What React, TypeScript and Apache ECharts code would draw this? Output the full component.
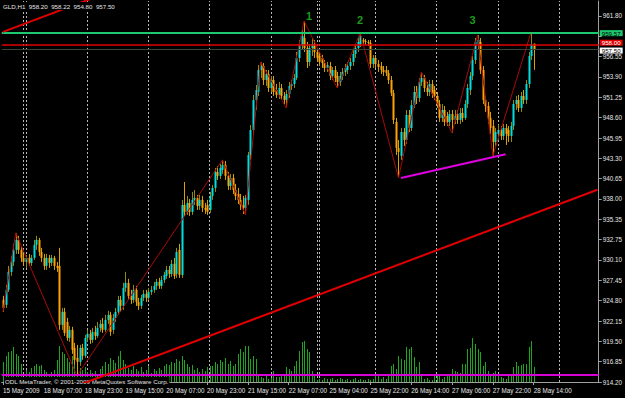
import React, { useEffect, useRef } from 'react';
import * as echarts from 'echarts';

const symbolName = 'GLD,H1';
const copyrightText = 'ODL MetaTrader, \u00a9 2001-2009 MetaQuotes Software Corp.';

// x axis: one slot per hourly bar (plus empty shift space on the right)
const slotCount = 234;
const xLabelStep = 16;
const xTickLabels = [
  '15 May 2009', '18 May 07:00', '18 May 23:00', '19 May 15:00', '20 May 07:00',
  '20 May 23:00', '21 May 15:00', '22 May 07:00', '25 May 04:00', '25 May 22:00',
  '26 May 14:00', '27 May 06:00', '27 May 22:00', '28 May 14:00',
];
// period separators (first bar of each day, bar index)
const daySeparators = [8, 9, 33, 57, 81, 105, 123, 124, 146, 170, 194, 218];

// price axis (the 959.20 label is hidden under the green price box in the reference)
const yMin = 914.2;
const yMax = 963.75;
const yTickValues = [914.2, 916.84, 919.49, 922.13, 924.78, 927.42, 930.07, 932.71, 935.36, 938.0,
  940.64, 943.29, 945.93, 948.58, 951.22, 953.87, 956.51, 959.16, 961.8];
const yTickLabels = ['914.20', '916.85', '919.50', '922.15', '924.80', '927.45', '930.10', '932.75', '935.35', '938.00',
  '940.65', '943.30', '945.95', '948.60', '951.25', '953.90', '956.55', '', '961.80'];

// candles: [open, close, low, high]
const candles = [
  [924.88, 923.84, 923.32, 925.40], [924.23, 926.18, 923.84, 926.83], [926.18, 928.52, 925.92, 929.30], [928.52, 929.82, 928.00, 930.60],
  [929.82, 931.38, 929.30, 932.16], [931.38, 932.68, 930.86, 933.59], [932.68, 931.38, 930.86, 933.20], [931.38, 930.34, 929.82, 931.90],
  [930.34, 929.82, 929.30, 930.86], [929.82, 930.34, 929.04, 930.73], [930.34, 929.69, 929.30, 930.86], [929.69, 930.34, 929.30, 930.73],
  [930.34, 932.03, 930.08, 932.68], [932.03, 932.68, 931.38, 933.20], [932.68, 931.12, 930.60, 932.94], [931.12, 930.34, 929.82, 931.64],
  [930.34, 929.30, 928.78, 930.86], [929.30, 930.34, 928.78, 930.86], [930.34, 929.69, 929.04, 930.73], [929.69, 930.34, 929.30, 930.73],
  [930.34, 929.30, 928.78, 930.60], [929.30, 929.04, 928.52, 929.82], [929.30, 921.63, 920.98, 931.64], [921.63, 923.32, 920.98, 923.84],
  [923.32, 920.59, 920.20, 923.84], [922.02, 919.94, 919.55, 922.54], [919.94, 920.98, 919.42, 921.50], [920.98, 918.38, 917.86, 921.37],
  [918.64, 917.08, 916.43, 919.29], [917.34, 916.82, 915.00, 919.03], [916.82, 918.64, 916.30, 919.03], [918.64, 917.60, 917.08, 919.16],
  [917.60, 919.94, 917.34, 920.33], [919.94, 920.46, 919.42, 920.98], [920.46, 919.68, 919.16, 920.98], [919.68, 920.72, 919.29, 921.24],
  [920.72, 920.20, 919.68, 921.50], [920.20, 921.24, 919.94, 922.02], [921.24, 921.76, 920.72, 922.28], [921.76, 920.98, 920.59, 922.54],
  [920.98, 922.28, 920.72, 922.93], [922.28, 922.93, 921.76, 923.45], [922.93, 920.72, 920.20, 923.32], [920.98, 922.54, 920.46, 923.06],
  [922.54, 923.32, 922.02, 923.84], [923.32, 924.88, 922.93, 925.40], [924.88, 924.10, 923.32, 925.40], [924.10, 926.44, 923.58, 927.09],
  [926.44, 927.09, 925.92, 928.52], [927.09, 925.40, 924.88, 927.61], [925.40, 924.88, 924.36, 926.18], [924.88, 926.18, 924.49, 926.83],
  [926.18, 924.62, 924.10, 926.70], [924.62, 924.10, 923.58, 925.14], [924.10, 925.14, 923.71, 925.53], [925.14, 925.66, 924.75, 926.18],
  [925.66, 925.14, 924.62, 926.18], [925.14, 925.92, 924.88, 926.44], [925.92, 926.18, 925.53, 926.70], [926.18, 926.70, 925.79, 927.22],
  [926.70, 927.22, 926.18, 927.61], [927.22, 926.70, 926.31, 927.74], [926.70, 927.48, 926.31, 928.00], [927.48, 928.13, 927.09, 928.52],
  [928.00, 928.78, 927.61, 929.30], [928.78, 928.26, 927.74, 929.30], [928.26, 929.56, 927.87, 930.08], [929.56, 928.00, 927.61, 930.34],
  [928.26, 931.12, 927.74, 931.64], [931.38, 928.13, 927.74, 932.16], [928.13, 937.23, 927.74, 937.88], [937.23, 936.32, 935.80, 940.22],
  [936.32, 937.49, 935.93, 938.40], [937.49, 936.32, 935.80, 938.01], [936.32, 937.88, 935.93, 938.92], [937.88, 938.14, 937.23, 939.18],
  [938.14, 937.10, 936.58, 938.53], [937.10, 937.88, 936.58, 938.53], [937.88, 936.84, 936.32, 938.40], [936.84, 936.58, 936.06, 937.49],
  [937.23, 936.32, 935.93, 937.88], [936.58, 938.40, 936.19, 938.92], [938.40, 939.44, 937.88, 939.83], [939.44, 941.52, 938.92, 942.04],
  [941.52, 941.00, 940.48, 942.30], [941.00, 942.04, 940.61, 942.56], [941.78, 942.43, 941.26, 943.08], [942.43, 941.00, 940.48, 942.95],
  [941.00, 939.70, 939.18, 941.52], [939.70, 940.74, 939.18, 941.26], [940.74, 939.18, 938.66, 941.26], [939.18, 938.40, 937.88, 939.96],
  [938.66, 937.88, 937.36, 939.44], [937.88, 937.23, 936.58, 938.66], [937.23, 936.84, 936.06, 938.40], [936.84, 938.14, 935.93, 938.53],
  [937.88, 943.73, 937.23, 944.12], [943.73, 946.98, 943.08, 947.63], [946.98, 950.88, 946.33, 951.53], [950.88, 952.18, 949.58, 952.83],
  [951.92, 954.78, 951.40, 955.43], [954.78, 955.30, 953.74, 955.82], [955.30, 953.48, 952.83, 955.69], [953.48, 954.26, 952.70, 954.78],
  [954.26, 952.44, 951.92, 954.78], [952.44, 953.48, 951.92, 954.00], [953.48, 951.92, 951.40, 954.00], [952.18, 951.53, 951.14, 952.96],
  [951.53, 952.44, 951.01, 953.22], [952.44, 951.40, 950.88, 952.96], [951.40, 950.88, 950.36, 951.92], [950.88, 951.66, 949.84, 952.18],
  [951.66, 952.70, 951.14, 953.22], [952.70, 952.96, 952.18, 953.48], [952.96, 953.74, 952.44, 954.26], [953.74, 956.34, 953.48, 957.12],
  [956.34, 957.90, 955.82, 958.68], [957.90, 959.20, 957.38, 959.98], [958.94, 957.64, 957.12, 961.15], [957.64, 955.82, 955.04, 958.42],
  [955.82, 957.64, 955.30, 958.16], [957.64, 958.16, 956.60, 958.94], [958.16, 957.12, 956.34, 958.68], [957.12, 956.34, 955.82, 957.64],
  [956.60, 955.82, 955.30, 957.12], [956.34, 955.69, 955.04, 956.73], [955.69, 955.04, 954.52, 956.08], [955.04, 955.43, 954.52, 955.82],
  [955.30, 954.00, 953.48, 955.82], [954.00, 954.78, 953.48, 955.17], [954.78, 953.74, 953.22, 955.30], [954.00, 953.22, 952.44, 954.52],
  [953.22, 954.00, 952.70, 954.52], [954.00, 954.52, 953.48, 955.04], [954.52, 955.04, 954.00, 955.56], [954.78, 955.30, 954.26, 955.82],
  [955.30, 955.82, 954.78, 956.34], [955.82, 956.86, 955.30, 957.38], [956.86, 957.64, 956.34, 958.16], [957.64, 958.42, 957.12, 958.94],
  [958.16, 959.20, 957.77, 959.59], [958.68, 958.55, 958.16, 958.94], [958.55, 958.42, 958.03, 958.81], [958.42, 958.29, 957.90, 958.68],
  [958.29, 955.56, 955.04, 958.68], [955.56, 956.34, 955.04, 956.73], [956.34, 955.56, 955.04, 956.73], [955.56, 955.17, 954.52, 956.08],
  [955.30, 954.78, 954.26, 955.82], [954.78, 954.52, 954.00, 955.30], [954.78, 954.39, 954.00, 955.30], [954.39, 953.48, 952.96, 954.78],
  [953.48, 951.79, 951.40, 954.00], [951.79, 948.28, 947.76, 952.18], [948.02, 944.64, 943.73, 948.54], [944.64, 944.12, 940.74, 945.68],
  [943.60, 946.72, 943.08, 947.24], [946.72, 945.68, 944.90, 947.24], [945.68, 948.93, 945.16, 949.58], [948.93, 947.24, 946.72, 949.58],
  [947.24, 950.23, 946.85, 950.88], [950.23, 951.92, 949.84, 952.70], [951.92, 951.14, 950.36, 952.70], [951.14, 953.22, 950.62, 953.74],
  [953.22, 953.74, 952.70, 954.52], [953.74, 952.44, 951.92, 954.13], [952.44, 951.92, 951.40, 953.22], [951.92, 952.96, 951.40, 953.48],
  [952.96, 951.66, 951.14, 953.48], [952.18, 951.40, 950.88, 952.70], [951.40, 950.36, 949.84, 951.92], [950.36, 948.54, 948.02, 950.88],
  [948.54, 949.58, 948.02, 950.36], [949.58, 948.02, 947.50, 950.10], [948.80, 948.02, 947.50, 949.32], [948.02, 949.06, 947.50, 949.58],
  [949.06, 948.28, 946.59, 949.58], [948.28, 948.80, 947.76, 949.58], [949.06, 948.28, 947.76, 949.58], [948.28, 949.19, 947.76, 949.84],
  [949.19, 948.54, 948.02, 949.84], [948.54, 950.36, 948.28, 950.88], [950.36, 952.44, 949.84, 952.96], [952.18, 954.00, 951.53, 954.52],
  [954.00, 956.08, 953.48, 956.60], [956.08, 958.42, 955.56, 958.94], [958.16, 958.68, 957.38, 959.33], [958.42, 954.78, 954.26, 958.94],
  [954.78, 950.88, 950.36, 955.30], [950.88, 950.10, 949.32, 951.40], [950.10, 948.54, 947.76, 950.62], [948.54, 947.24, 946.46, 949.32],
  [947.50, 945.42, 943.60, 948.28], [945.42, 946.72, 944.90, 947.24], [946.46, 946.98, 945.68, 947.63], [946.98, 946.20, 945.68, 947.50],
  [946.20, 947.24, 945.68, 947.76], [947.24, 946.46, 945.03, 947.76], [946.98, 946.20, 945.42, 947.50], [946.20, 947.50, 945.42, 948.02],
  [947.50, 950.36, 946.98, 950.88], [950.36, 950.88, 949.58, 951.40], [950.88, 949.84, 949.32, 951.53], [949.84, 951.40, 949.32, 951.92],
  [951.40, 950.88, 950.36, 952.18], [950.88, 952.96, 950.36, 953.48], [952.96, 956.60, 952.44, 957.12], [956.60, 958.16, 956.08, 959.72],
  [958.20, 957.50, 954.80, 958.22],
];

// tick volumes per bar
const volumes = [
  200, 260, 300, 310, 350, 280, 260, 180, 50,
  120, 100, 140, 160, 180, 160, 170, 120, 100, 80, 100, 120,
  220, 360, 300, 280, 240, 200, 260, 220,
  180, 140, 120, 150, 100, 120, 90, 110, 80, 130,
  160, 200, 180, 240, 220, 190, 260, 310, 220,
  180, 140, 120, 160, 130, 110, 150, 100, 120, 160, 90, 130, 110, 140, 120,
  160, 180, 170, 200, 190, 230, 210, 260, 220, 180, 150, 170,
  120, 140, 100, 130, 110, 150, 160,
  160, 200, 180, 220, 200, 240, 180, 210, 160, 180, 280, 330, 300, 360, 360, 230, 260, 230, 80,
  50, 40, 60, 30, 40, 110,
  50, 50, 70, 80, 150, 130, 110, 160, 210, 310, 400, 410, 330, 300, 110, 80,
  20, 30, 20, 40, 30, 30, 40, 20, 30, 40, 30, 20, 30, 20, 30, 40, 20, 30, 20, 20, 30, 20, 30,
  80, 80, 30, 50, 30, 60,
  160, 180, 130, 260, 230, 220, 350, 330, 350, 250, 150, 200,
  60, 30, 40, 20, 20, 60, 60,
  60, 30, 50, 60, 70, 130, 110, 100, 90, 180, 180,
  330, 340, 440, 380, 330, 300, 160, 200,
  110, 60, 90, 110, 60, 50, 40, 30, 60, 80,
  150, 200, 160, 170, 180, 180, 350, 410, 150,
];
const volumeAxisMax = 3810;

// ZigZag pivots: [bar index, price]
const zigzag = [
  [0, 923.32], [5, 933.59], [29, 915.0], [86, 943.08], [95, 935.93], [101, 955.82], [111, 949.84],
  [118, 961.15], [131, 952.44], [140, 959.59], [155, 940.74], [164, 954.52], [176, 946.59],
  [186, 959.33], [192, 943.6], [207, 959.72],
];
// trend channel and support line: [bar index, price]
const channelLower = [[30, 913.83], [233, 939.21]];
const channelUpper = [[0, 959.73], [40, 964.73]];
const supportLine = [[156, 940.73], [197, 943.82]];
// horizontal levels
const greenLevel = 959.57;
const redLevel = 958.0;
const bidLevel = 957.5;
const magentaLevel = 915.17;
// wave labels
const waveLabels = ['1', '2', '3'];
const wavePoints = [[120, 961.8], [140, 961.28], [184, 961.28]];

const FONT = 'Liberation Sans, Arial, sans-serif';
const BULL = '#00dede';
const BEAR = '#ffa200';
const WICK_UP = '#8c8c12';
const WICK_DOWN = '#d2a400';
const VOL = '#1ea61e';

export default function App() {
  const ref = useRef<HTMLDivElement>(null);

  useEffect(() => {
    if (!ref.current) return;
    const chart = echarts.init(ref.current, null, { renderer: 'svg' });
    const slots = Array.from({ length: slotCount }, (_, i) => String(i));
    const candleData = candles.map((c, i) => [i, c[0], c[1], c[2], c[3]]);
    const volumeData = volumes.map((v, i) => [i, v]);
    const last = candles[candles.length - 1];
    const header = `${symbolName}  ${last[0].toFixed(2)}  ${last[3].toFixed(2)}  ${last[2].toFixed(2)}  ${last[1].toFixed(2)}`;
    const showX = (index: number) => index % xLabelStep === 0 && index / xLabelStep < xTickLabels.length;

    const renderCandle = (params: any, api: any) => {
      const idx = api.value(0);
      const o = api.value(1);
      const c = api.value(2);
      const l = api.value(3);
      const h = api.value(4);
      const pO = api.coord([idx, o]);
      const pC = api.coord([idx, c]);
      const pL = api.coord([idx, l]);
      const pH = api.coord([idx, h]);
      const xc = Math.round(pO[0]);
      const up = c >= o;
      const top = Math.min(pO[1], pC[1]);
      const bh = Math.max(1, Math.abs(pO[1] - pC[1]));
      return {
        type: 'group',
        children: [
          { type: 'line', shape: { x1: xc + 0.5, y1: pH[1], x2: xc + 0.5, y2: pL[1] }, style: { stroke: up ? WICK_UP : WICK_DOWN, lineWidth: 1 } },
          { type: 'rect', shape: { x: xc - 0.5, y: top, width: 2, height: bh }, style: { fill: up ? BULL : BEAR } },
        ],
      };
    };

    const renderVolume = (params: any, api: any) => {
      const p = api.coord([api.value(0), api.value(1)]);
      const b = api.coord([api.value(0), 0]);
      const x = Math.round(p[0]);
      return { type: 'rect', shape: { x, y: p[1], width: 1, height: b[1] - p[1] }, style: { fill: VOL } };
    };

    const priceLabel = (bg: string, fg: string, text: string, dy: number) => ({
      show: true, position: 'end', distance: 1, formatter: text, backgroundColor: bg, color: fg,
      padding: [0, 2, 0, 2], fontSize: 6.2, fontFamily: FONT, offset: [0, dy],
    });

    chart.setOption({
      animation: false,
      backgroundColor: '#000000',
      grid: { left: 1.4, right: 24.5, top: 1, bottom: 16, containLabel: false },
      xAxis: {
        type: 'category', data: slots, boundaryGap: true,
        axisLine: { show: true, lineStyle: { color: '#a0a0a0', width: 1 } },
        axisTick: { show: true, alignWithLabel: true, interval: showX, length: 3, lineStyle: { color: '#a0a0a0' } },
        axisLabel: {
          show: true, interval: showX, align: 'left', margin: 5, color: '#e6e6e6', fontSize: 6.3, fontFamily: FONT,
          formatter: (v: string, i: number) => xTickLabels[Math.round(i / xLabelStep)] ?? '',
        },
        splitLine: { show: false },
      },
      yAxis: [
        {
          type: 'value', position: 'right', min: yMin, max: yMax,
          axisLine: { show: true, lineStyle: { color: '#a0a0a0', width: 1 } },
          axisTick: { show: true, customValues: yTickValues, length: 3, lineStyle: { color: '#a0a0a0' } },
          axisLabel: {
            show: true, customValues: yTickValues, margin: 4, color: '#e6e6e6', fontSize: 6.3, fontFamily: FONT,
            formatter: (v: number) => {
              const k = yTickValues.findIndex((t) => Math.abs(t - v) < 0.005);
              return k >= 0 ? yTickLabels[k] : '';
            },
          },
          splitLine: { show: false },
        },
        { type: 'value', min: 0, max: volumeAxisMax, show: false },
      ],
      graphic: [
        {
          type: 'text', left: 3, top: 2, z: 100,
          style: { text: header, fill: '#e6e6e6', fontSize: 6.2, fontFamily: FONT, backgroundColor: '#000', padding: [1, 1, 1, 0] },
        },
        {
          type: 'text', left: 4, top: 377, z: 2,
          style: { text: copyrightText, fill: '#e0e0e0', fontSize: 6.2, fontFamily: FONT, backgroundColor: '#000', padding: [1, 1, 1, 1] },
        },
      ],
      series: [
        {
          type: 'custom', name: 'volume', yAxisIndex: 1, renderItem: renderVolume, data: volumeData,
          encode: { x: 0, y: 1 }, z: 1, silent: true,
          markLine: {
            silent: true, symbol: ['none', 'none'], z: 1, label: { show: false },
            lineStyle: { color: '#b8b8b8', width: 1, type: [2, 2] },
            data: daySeparators.map((d) => ({ xAxis: String(d) })),
          },
        },
        {
          type: 'custom', name: 'candles', renderItem: renderCandle, data: candleData,
          encode: { x: 0, y: [1, 2, 3, 4] }, z: 3, silent: true,
        },
        {
          type: 'line', name: 'zigzag', data: zigzag, symbol: 'none', showSymbol: false, z: 4, silent: true,
          lineStyle: { color: '#a80a0a', width: 1 },
        },
        {
          type: 'line', name: 'channel lower', data: channelLower, symbol: 'none', showSymbol: false, z: 5, silent: true,
          lineStyle: { color: '#e00000', width: 2 },
          markLine: {
            silent: true, symbol: ['none', 'none'], z: 5,
            data: [
              { yAxis: magentaLevel, lineStyle: { color: '#d400d4', width: 2, type: 'solid' }, label: { show: false } },
              { yAxis: bidLevel, lineStyle: { color: '#34463a', width: 1, type: 'solid' }, label: priceLabel('#ffffff', '#000000', bidLevel.toFixed(2), 1.5) },
              { yAxis: redLevel, lineStyle: { color: '#e00000', width: 1.5, type: 'solid' }, label: priceLabel('#e00000', '#ffffff', redLevel.toFixed(2), -2.5) },
              { yAxis: greenLevel, lineStyle: { color: '#1ec86e', width: 2, type: 'solid' }, label: priceLabel('#1ec86e', '#000000', greenLevel.toFixed(2), 0) },
            ],
          },
        },
        {
          type: 'line', name: 'channel upper', data: channelUpper, symbol: 'none', showSymbol: false, z: 5, silent: true,
          lineStyle: { color: '#e00000', width: 2 },
        },
        {
          type: 'line', name: 'support', data: supportLine, symbol: 'none', showSymbol: false, z: 5, silent: true,
          lineStyle: { color: '#e000e0', width: 2 },
        },
        {
          type: 'scatter', name: 'waves', data: wavePoints, symbolSize: 1, z: 6, silent: true,
          itemStyle: { color: 'transparent' },
          label: {
            show: true, position: 'inside', color: '#22c422', fontSize: 11, fontWeight: 'bold', fontFamily: FONT,
            formatter: (p: any) => waveLabels[p.dataIndex],
          },
        },
      ],
    });
    return () => chart.dispose();
  }, []);

  return (
    <div
      ref={ref}
      style={{ position: 'fixed', left: 0, top: 0, width: 625, height: 398, background: '#000' }}
    />
  );
}
